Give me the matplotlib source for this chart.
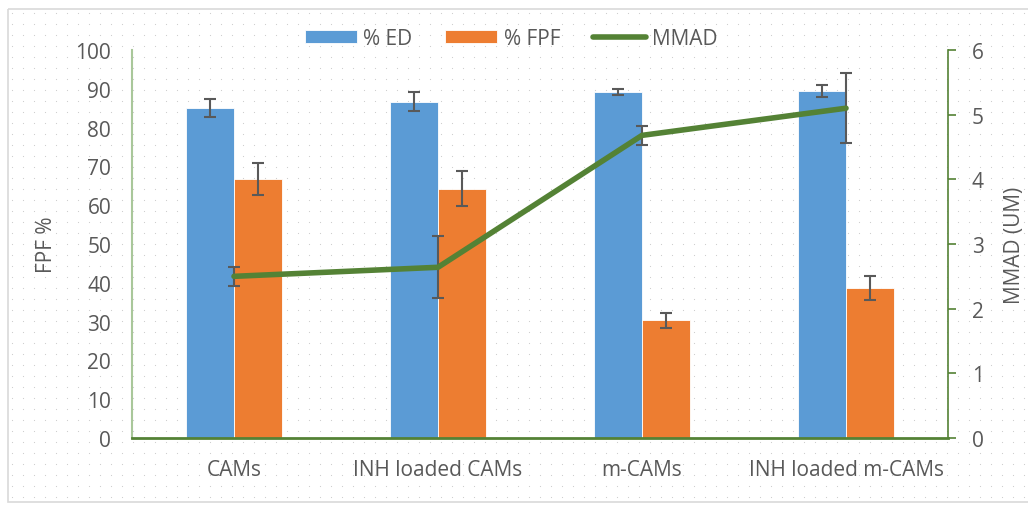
import numpy as np
import matplotlib.pyplot as plt
from matplotlib.patches import Rectangle

categories = ["CAMs", "INH loaded CAMs", "m-CAMs", "INH loaded m-CAMs"]
ed = [85.1, 86.7, 89.2, 89.5]
ed_err = [2.3, 2.4, 0.8, 1.6]
fpf = [66.8, 64.2, 30.3, 38.7]
fpf_err = [4.2, 4.5, 2.0, 3.1]
mmad = [2.50, 2.64, 4.68, 5.10]
mmad_err = [0.15, 0.48, 0.15, 0.54]

BLUE = "#5B9BD5"
ORANGE = "#ED7D31"
GREEN = "#548235"
TXT = "#595959"
ERR = "#595959"
FS = 15

plt.rcParams['font.family'] = ['Open Sans', 'DejaVu Sans']

fig = plt.figure(figsize=(10.28, 5.06), dpi=100)
fig.patch.set_facecolor("white")

# dotted background pattern + outer border
gx, gy = np.meshgrid(np.arange(12, 1028, 11), np.arange(14, 506, 11))
bg = fig.add_axes([0, 0, 1, 1], zorder=-5)
bg.set_xlim(0, 1028)
bg.set_ylim(506, 0)
bg.axis("off")
bg.scatter(gx.ravel(), gy.ravel(), s=0.7, color="#CCCCCC", linewidths=0)
bg.add_patch(Rectangle((8, 10), 1030, 493, fill=False, edgecolor="#D9D9D9", lw=1.2))

ax = fig.add_axes([0.1284, 0.1324, 0.7938, 0.7668])
ax.patch.set_alpha(0)
x = np.arange(len(categories))
w = 0.236

ekw = dict(ecolor=ERR, elinewidth=1.5, capsize=4.5, capthick=1.5)
ax.bar(x - w / 2, ed, w, color=BLUE, edgecolor="white", linewidth=0.6, label="% ED",
       yerr=ed_err, error_kw=ekw, zorder=2)
ax.bar(x + w / 2, fpf, w, color=ORANGE, edgecolor="white", linewidth=0.6, label="% FPF",
       yerr=fpf_err, error_kw=ekw, zorder=2)

ax.set_xlim(-0.5, 3.5)
ax.set_ylim(0, 100)
ax.set_yticks(range(0, 101, 10))
ax.set_xticks(x)
ax.set_xticklabels(categories)
ax.tick_params(axis="y", length=0, labelsize=FS, labelcolor=TXT, pad=15)
ax.tick_params(axis="x", length=0, labelsize=FS, labelcolor=TXT, pad=15)
ax.set_ylabel("FPF %", fontsize=FS, color=TXT, labelpad=13)
for s in ["top", "right"]:
    ax.spines[s].set_visible(False)
ax.spines["left"].set_color("#A9C79A")
ax.spines["left"].set_linewidth(1.5)
ax.spines["bottom"].set_color(GREEN)
ax.spines["bottom"].set_linewidth(2)

ax2 = ax.twinx()
ax2.errorbar(x, mmad, yerr=mmad_err, fmt="none", **ekw, zorder=3)
ax2.plot(x, mmad, color=GREEN, lw=4, label="MMAD", zorder=4, solid_capstyle="round")
ax2.set_ylim(0, 6)
ax2.set_yticks(range(0, 7))
ax2.tick_params(axis="y", length=6, width=1.2, color=GREEN, labelsize=FS,
                labelcolor=TXT, pad=11)
ax2.set_ylabel("MMAD (UM)", fontsize=FS, color=TXT, labelpad=15)
for s in ["top", "left", "bottom"]:
    ax2.spines[s].set_visible(False)
ax2.spines["right"].set_color(GREEN)
ax2.spines["right"].set_linewidth(1.2)

h1, l1 = ax.get_legend_handles_labels()
h2, l2 = ax2.get_legend_handles_labels()
fig.legend(h1 + h2, l1 + l2, loc="center", bbox_to_anchor=(0.497, 0.922), ncol=3,
           frameon=False, fontsize=FS, labelcolor=TXT, handlelength=2.5,
           handleheight=0.6, columnspacing=1.6, handletextpad=0.3)

fig.savefig("out.png", dpi=100)
